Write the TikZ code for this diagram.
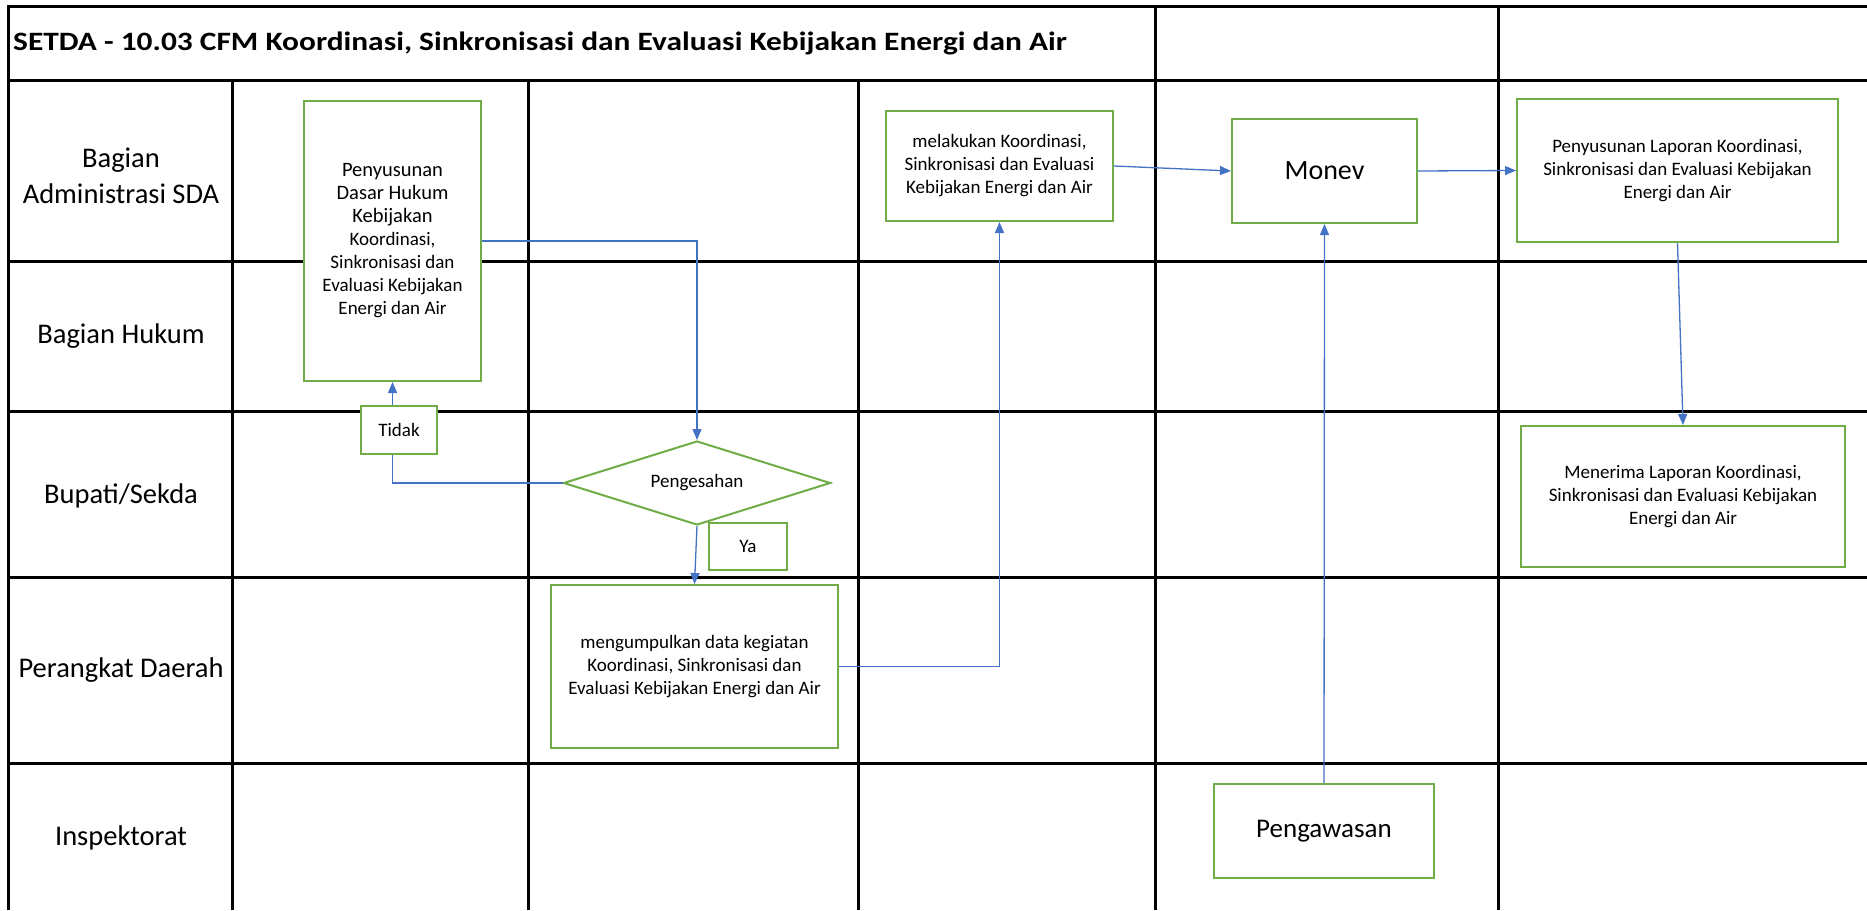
\documentclass[tikz,border=0pt]{standalone}
\usepackage{fontspec}
\setmainfont{Carlito}
\usetikzlibrary{arrows.meta,shapes.geometric}
\definecolor{boxgreen}{HTML}{70AD47}
\definecolor{connblue}{HTML}{4472C4}
\tikzset{
  grid/.style={line width=3pt, draw=black},
  box/.style={draw=boxgreen, line width=2pt, fill=white, align=center, inner sep=0pt, font=\fontsize{19}{23}\selectfont},
  conn/.style={draw=connblue, line width=1.3pt, -{Triangle[length=11pt,width=9pt]}},
  lane/.style={font=\fontsize{28.5}{36}\selectfont, align=center, inner sep=0pt},
}
\begin{document}
\begin{tikzpicture}[x=1pt,y=-1pt]
\useasboundingbox (0,0) rectangle (1867,910);
\fill[white] (0,0) rectangle (1867,910);
% grid
\draw[grid] (8,6) -- (1867,6);
\draw[grid] (8,80) -- (1867,80);
\draw[grid] (8,261) -- (1867,261);
\draw[grid] (8,411) -- (1867,411);
\draw[grid] (8,577) -- (1867,577);
\draw[grid] (8,763) -- (1867,763);
\draw[grid] (8,4.5) -- (8,910);
\draw[grid] (232,80) -- (232,910);
\draw[grid] (528,80) -- (528,910);
\draw[grid] (858,80) -- (858,910);
\draw[grid] (1155,6) -- (1155,910);
\draw[grid] (1498,6) -- (1498,910);
% title
\node[anchor=base west, inner sep=0pt, font=\fontsize{26.5}{30}\selectfont\bfseries] (title) at (13,50) {\scalebox{1.185}[1]{SETDA - 10.03 CFM Koordinasi, Sinkronisasi dan Evaluasi Kebijakan Energi dan Air}};
% lanes
\node[lane] (l1) at (121,176) {Bagian\\Administrasi SDA};
\node[lane] (l2) at (121,336) {Bagian Hukum};
\node[lane] (l3) at (121,496) {Bupati/Sekda};
\node[lane] (l4) at (121,670) {Perangkat Daerah};
\node[lane] (l5) at (121,838) {Inspektorat};
% nodes
\node[box, minimum width=177, minimum height=280] (peny) at (392.5,241) {{\fontsize{20.5}{25}\selectfont Penyusunan}\\{\fontsize{20.5}{25}\selectfont Dasar Hukum}\\{\fontsize{20.5}{25}\selectfont Kebijakan}\\Koordinasi,\\Sinkronisasi dan\\Evaluasi Kebijakan\\Energi dan Air};
\node[box, shape=diamond, shape aspect=3.2, minimum width=267, minimum height=84] (dia) at (697,483) {Pengesahan};
\node[box, minimum width=287, minimum height=163] (meng) at (694.5,666.5) {mengumpulkan data kegiatan\\Koordinasi, Sinkronisasi dan\\Evaluasi Kebijakan Energi dan Air};
\node[box, minimum width=227, minimum height=110] (mel) at (999.5,166) {melakukan Koordinasi,\\Sinkronisasi dan Evaluasi\\Kebijakan Energi dan Air};
\node[box, minimum width=185, minimum height=104, font=\fontsize{28}{32}\selectfont] (monev) at (1324.5,171) {Monev};
\node[box, minimum width=321, minimum height=143] (lap) at (1677.5,170.5) {Penyusunan Laporan Koordinasi,\\Sinkronisasi dan Evaluasi Kebijakan\\Energi dan Air};
\node[box, minimum width=324, minimum height=141] (ter) at (1683,496.5) {Menerima Laporan Koordinasi,\\Sinkronisasi dan Evaluasi Kebijakan\\Energi dan Air};
\node[box, minimum width=220, minimum height=94, font=\fontsize{27}{32}\selectfont] (peng) at (1324,831) {Pengawasan};
% connectors
\draw[conn] (peny.east) -| (dia.north);
\draw[conn] (dia.west) -| (peny.south);
\draw[conn] (dia.south) -- (meng.north);
\draw[conn] (meng.east) -| (mel.south);
\draw[conn] (mel.east) -- (monev.west);
\draw[conn] (monev.east) -- (lap.west);
\draw[conn] (lap.south) -- (ter.north);
\draw[conn] (peng.north) -- (monev.south);
% labels on connectors
\node[box, minimum width=76, minimum height=48] (tidak) at (399,430) {Tidak};
\node[box, minimum width=78, minimum height=47] (ya) at (748,546) {Ya};
\end{tikzpicture}
\end{document}
